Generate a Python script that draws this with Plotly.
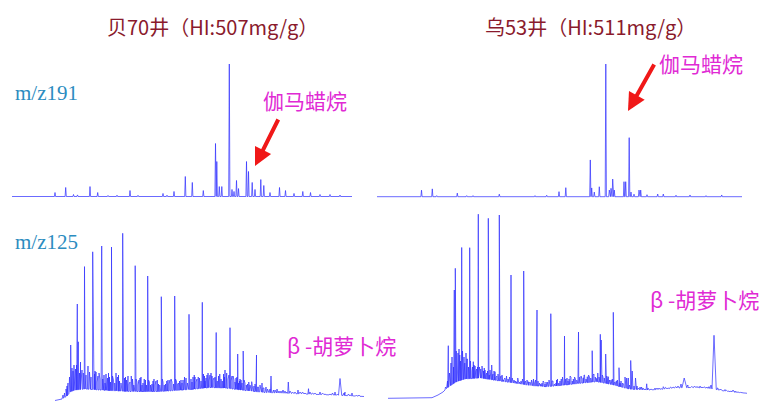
import numpy as np
import plotly.graph_objects as go

# ---------------- data (retention time in min, abundance) ----------------
# m/z191, 贝70井 (relative abundance, tallest = 100)
tl_base_t = [0.0, 68.0]
tl_base_i = [0.0, 0.0]
tl_peak_t = [8.6, 10.74, 12.3, 13.1, 15.6, 17.14, 19.2, 21.0, 23.6, 25.2,
             30.2, 31.0, 32.4, 34.66, 36.06, 38.26, 40.7, 40.96, 41.46, 41.96,
             43.46, 44.0, 44.4, 44.9, 45.3, 46.9, 47.3, 48.04, 48.6, 49.76,
             50.36, 51.6, 53.5, 54.7, 56.4, 58.16, 59.7, 61.6, 63.6, 65.6]
tl_peak_i = [3.0, 6.8, 1.5, 1.2, 7.5, 3.0, 0.8, 1.0, 4.5, 0.9,
             2.3, 1.0, 3.8, 15.1, 10.6, 4.5, 40.0, 26.4, 7.5, 7.5,
             100, 5.3, 3.8, 12.1, 6.0, 26.4, 18.9, 10.6, 5.3, 12.8,
             8.3, 3.0, 6.8, 4.5, 2.3, 3.8, 3.0, 1.5, 1.5, 1.1]

# m/z191, 乌53井
tr_base_t = [-0.6, 72.4]
tr_base_i = [0.0, 0.0]
tr_peak_t = [8.3, 10.46, 11.34, 15.46, 17.34, 18.6, 23.86, 31.0, 33.34, 35.8,
             37.16, 42.06, 42.34, 42.86, 43.86, 45.16, 45.86, 46.2, 46.54, 46.86,
             48.8, 49.14, 49.84, 50.2, 50.8, 51.8, 52.14, 53.4, 55.54, 56.66,
             59.2, 62.0, 65.2, 68.34]
tr_peak_i = [4.9, 5.9, 0.8, 2.7, 0.8, 0.8, 1.9, 0.8, 1.1, 3.8,
             6.8, 27.7, 6.6, 3.5, 7.5, 100, 5.0, 6.3, 13.3, 5.0,
             11.3, 11.3, 44.5, 3.5, 1.9, 5.0, 5.0, 1.5, 2.0, 2.0,
             1.1, 1.3, 0.8, 1.3]

# m/z125, 贝70井 (abundance, arbitrary units)
bl_base_t = [0.0, 1.4, 2.4, 3.0, 4.0, 6.0, 9.0, 15.0, 21.0, 27.0,
             31.0, 34.0, 38.0, 42.0, 47.0, 53.0, 58.0, 61.8]
bl_base_i = [0.25, 1.0, 2.5, 4.5, 5.5, 6.0, 5.5, 4.75, 4.75, 5.75,
             6.75, 6.5, 5.25, 4.25, 3.75, 3.25, 2.75, 2.25]
bl_peak_t = [3.14, 3.4, 3.8, 4.46, 4.66, 5.1, 5.9, 6.6, 7.54, 8.2,
             9.34, 10.2, 11.3, 12.2, 13.54, 14.6, 16.04, 17.2, 18.54, 19.8,
             21.26, 22.6, 23.94, 25.2, 26.8, 28.0, 29.46, 30.6, 31.4, 32.24,
             34.0, 34.34, 35.0, 36.54, 37.64, 39.34, 40.3, 41.4, 43.2, 44.4,
             46.66, 48.6, 50.7, 53.0, 56.0, 57.0, 58.0, 59.4]
bl_peak_i = [28, 16.5, 18, 48.5, 29.6, 19.5, 67.2, 17.5, 74.6, 14.5,
             77.5, 13.5, 77, 14, 83.85, 12.5, 67.65, 12, 62.5, 11,
             52.15, 10.5, 52.5, 10.5, 43.35, 12, 49.35, 14, 12.5, 34.25,
             15.5, 14, 36.65, 23.5, 25, 9.65, 23, 9, 12.5, 6,
             9.5, 5.5, 6.15, 4.5, 4.5, 11.25, 4.5, 4]
bl_noise_t = [1.6, 2.2, 2.6, 2.9, 3.6, 4.1, 4.9, 5.4, 6.2, 6.9,
              7.2, 7.9, 8.6, 9.0, 9.8, 10.5, 10.9, 11.7, 12.5, 12.9,
              13.9, 14.3, 15.0, 15.5, 16.4, 16.8, 17.6, 18.1, 18.9, 19.4,
              20.2, 20.7, 21.6, 22.1, 23.0, 23.4, 24.3, 24.7, 25.6, 26.2,
              27.2, 27.6, 28.4, 28.9, 29.9, 30.2, 31.0, 31.8, 32.7, 33.2,
              33.7, 35.4, 35.8, 36.2, 36.9, 37.2, 38.0, 38.5, 39.0, 39.8,
              40.7, 41.8, 42.5, 43.7, 45.2, 46.0, 47.5, 49.5, 51.5, 54.0,
              55.5, 58.7, 60.3]
bl_noise_i = [3, 6, 9, 12, 15, 16, 14, 15.5, 13, 14.5,
              12, 13.5, 12.5, 11, 13, 11.5, 12, 10.5, 12, 10,
              11.5, 10.5, 9.5, 11, 9.5, 10.5, 9, 10.5, 9.5, 8.5,
              10, 8.5, 9.5, 8.5, 10.5, 9.5, 10, 9, 10.5, 11.5,
              11, 12, 11, 11.5, 12.5, 11.5, 13, 11.5, 12.5, 11,
              13.5, 12.5, 10.5, 11.5, 10, 10.5, 9, 8.5, 8, 7.5,
              7, 6.5, 6, 5.5, 5, 5, 4.5, 4.5, 4, 3.5,
              4, 3.5, 3]
bl_noise2_t = [1.9, 2.4, 3.25, 3.95, 4.3, 4.75, 5.25, 5.65, 6.0, 6.45,
               7.0, 7.7, 8.0, 8.4, 8.8, 9.55, 10.0, 10.7, 11.1, 11.5,
               11.95, 12.35, 12.7, 13.2, 13.7, 14.1, 14.8, 15.25, 15.75, 16.2,
               16.6, 17.0, 17.4, 17.85, 18.3, 18.7, 19.1, 19.6, 20.0, 20.45,
               20.95, 21.45, 21.85, 22.35, 22.8, 23.2, 23.7, 24.1, 24.5, 24.9,
               25.4, 25.9, 26.5, 26.95, 27.4, 27.85, 28.2, 28.65, 29.2, 29.7,
               30.0, 30.4, 30.8, 31.2, 31.6, 32.0, 32.45, 32.95, 33.45, 33.9,
               34.6, 34.8, 35.2, 35.6, 36.0, 36.4, 36.7, 37.0, 37.4, 37.8,
               38.25, 38.75, 39.5, 40.0, 40.5, 41.0, 41.6, 42.2, 43.0, 44.0,
               44.8, 45.6, 46.3, 47.0, 48.0, 49.0, 50.0, 51.0, 52.0, 53.5,
               55.0, 56.5, 57.8, 59.0, 60.8]
bl_noise2_i = [4, 7.5, 13, 11, 18, 12, 11, 14, 10, 16,
               11, 10, 15, 9.5, 14, 11, 9, 14, 9.5, 12.5,
               9, 10.5, 13, 9, 10, 12, 8.5, 12.5, 8, 11,
               8, 11.5, 8, 11, 8, 10.5, 8, 10, 8, 10.5,
               8, 11, 8, 10, 8.5, 11, 8.5, 11, 8.5, 10,
               9, 12, 9, 12.5, 9.5, 13, 9.5, 12, 10, 13.5,
               10, 13, 10, 14, 10.5, 12, 10, 13.5, 10, 12,
               11, 13, 10, 12.5, 9.5, 12, 9, 11, 9, 10.5,
               8, 9.5, 7.5, 8.5, 7, 8, 6.5, 7, 6, 5.5,
               5, 5.5, 4.5, 5, 4.5, 4.5, 4, 4.5, 4, 4,
               3.5, 3.5, 4, 3, 3]
bl_broad_t = [34.0, 34.34, 57.0]
bl_broad_w = [0.25, 0.25, 0.35]

# m/z125, 乌53井
br_base_t = [0.0, 6.4, 8.8, 10.0, 10.8, 11.6, 12.4, 13.6, 15.4, 18.4,
             22.4, 25.0, 28.4, 31.8, 35.4, 38.4, 41.8, 45.0, 48.4, 51.8,
             55.0, 57.4, 60.4, 63.4, 66.4, 68.4, 71.8]
br_base_i = [1.35, 1.35, 1.65, 3.0, 4.0, 6.0, 7.5, 9.5, 11.0, 11.5,
             10.0, 9.0, 7.75, 7.15, 8.0, 8.85, 9.65, 8.0, 5.85, 5.5,
             5.85, 6.5, 6.75, 6.5, 5.5, 4.65, 3.85]
br_peak_t = [12.06, 12.6, 13.26, 13.46, 14.2, 14.74, 15.2, 15.6, 16.34, 17.06,
             17.4, 18.06, 18.8, 19.4, 20.06, 20.74, 21.4, 22.26, 23.06, 24.6,
             25.74, 27.14, 28.06, 29.8, 30.8, 32.2, 32.56, 33.6, 35.3, 36.2,
             37.06, 38.1, 39.06, 39.86, 40.84, 41.74, 42.46, 42.64, 43.54, 44.06,
             45.06, 45.86, 46.2, 46.6, 47.74, 48.06, 48.54, 48.84, 49.8, 51.74,
             53.4, 55.06, 59.24, 62.4, 65.2, 67.4, 69.4]
br_peak_i = [27.65, 19, 55.5, 66.35, 26, 76.75, 22, 24, 76.65, 19.65,
             17.5, 93.4, 17.5, 15.5, 91.35, 18, 14.65, 93, 10.5, 63,
             9.65, 65, 9.65, 45.5, 9, 10.5, 43.65, 9, 32.5, 11,
             11, 34.5, 11.65, 12.15, 25.15, 11.35, 33.35, 30.5, 23.5, 12.15,
             44.35, 10.5, 16.65, 10, 11.5, 11.5, 20.25, 15, 7.5, 8.6,
             6.5, 7.15, 11.5, 7.5, 32.85, 5.75, 5]
br_noise_t = [11.2, 11.9, 12.9, 13.8, 14.0, 14.5, 15.0, 15.9, 16.6, 16.9,
              17.7, 18.3, 19.1, 19.7, 20.4, 21.0, 21.8, 22.6, 23.4, 24.0,
              24.3, 25.2, 26.0, 26.6, 27.5, 28.4, 29.1, 29.5, 30.3, 31.2,
              31.6, 33.0, 33.9, 34.4, 34.9, 35.8, 36.6, 37.5, 38.6, 39.3,
              40.3, 41.2, 42.0, 43.0, 43.9, 44.6, 45.4, 46.4, 47.1, 47.4,
              49.2, 49.5, 50.4, 51.0, 52.6, 54.2, 56.0, 57.0, 58.0, 58.6,
              60.0, 61.3, 62.8, 63.8, 64.6, 66.0, 67.0, 68.0, 69.0, 70.0,
              71.0]
br_noise_i = [5, 10, 16, 21, 24, 20, 18, 21, 19, 17,
              16, 17, 15, 14, 15.5, 13.5, 12.5, 12.5, 11.5, 11,
              12, 10.5, 11, 10, 10, 9.5, 11, 10.5, 9, 9.5,
              9.5, 10, 11, 10, 12, 11.5, 12, 11, 12.5, 13,
              12, 13.5, 13, 12, 11, 10.5, 9.5, 9, 8.5, 12,
              7.5, 11.5, 7, 6.5, 6, 6.5, 6.5, 7, 7.5, 8.5,
              8, 7.5, 7, 7, 8, 6.5, 5, 5, 5.5, 4.5,
              4]
br_noise2_t = [11.5, 12.3, 12.8, 13.1, 13.65, 13.9, 14.35, 14.9, 15.35, 15.75,
               16.1, 16.5, 16.8, 17.2, 17.55, 17.9, 18.2, 18.55, 18.95, 19.25,
               19.55, 19.9, 20.25, 20.55, 20.9, 21.2, 21.6, 22.0, 22.45, 22.8,
               23.2, 23.7, 24.15, 24.85, 25.45, 25.95, 26.3, 26.9, 27.35, 27.8,
               28.25, 28.7, 29.3, 30.0, 30.55, 31.0, 31.4, 31.95, 32.35, 32.8,
               33.25, 33.7, 34.15, 34.65, 35.05, 35.55, 36.0, 36.4, 36.85, 37.3,
               37.75, 38.35, 38.8, 39.2, 39.6, 40.1, 40.55, 41.0, 41.45, 41.95,
               42.2, 42.85, 43.25, 43.75, 44.3, 44.85, 45.25, 45.65, 46.05, 46.9,
               47.55, 48.3, 48.95, 49.6, 50.1, 50.7, 51.4, 52.0, 53.0, 53.8,
               54.6, 55.5, 56.5, 57.5, 59.8, 60.7, 61.8, 62.1, 63.2, 64.2,
               65.8, 66.6, 67.7, 68.6, 69.6, 70.5, 71.4]
br_noise2_i = [7, 14, 22, 17, 25, 19, 23, 25, 19, 21,
               17, 20, 15, 18, 15, 17, 14, 16, 14, 16.5,
               13, 15, 13, 14.5, 12.5, 15, 12, 13.5, 11.5, 13,
               11, 12.5, 10.5, 11.5, 10, 11.5, 9.5, 11, 9.5, 10.5,
               9, 10.5, 9, 10, 8.5, 10, 8.5, 9.5, 8.5, 10,
               8.5, 10.5, 9, 11, 9.5, 11, 10, 12.5, 10, 12,
               10.5, 12, 11, 13, 11, 13, 11.5, 13, 12, 14,
               12, 13, 11.5, 12.5, 10.5, 11, 9, 10, 8.5, 9,
               9, 8, 7.5, 7, 6.5, 7, 6, 6.5, 5.8, 6.5,
               6.2, 6.8, 7, 7.2, 7.5, 7.2, 7.3, 7.0, 7.1, 7.2,
               6.3, 5.8, 5.3, 5.0, 4.6, 4.3, 4.0]
br_broad_t = [14.2, 42.46, 59.24, 65.2]
br_broad_w = [0.25, 0.2, 0.5, 0.45]

titles = ["贝70井（HI:507mg/g）", "乌53井（HI:511mg/g）"]
ion_labels = ["m/z191", "m/z125"]
compound_top = "伽马蜡烷"
compound_bottom = "β -胡萝卜烷"


# ---------------- trace builder ----------------
def build(base_t, base_i, peak_t, peak_i, w, noise_t=(), noise_i=(), wn=0.2,
          broad_t=(), broad_w=()):
    bt = np.asarray(base_t, float)
    bi = np.asarray(base_i, float)
    bw = dict(zip(broad_t, broad_w))
    pts = []
    centers = []
    for t, i in zip(peak_t, peak_i):
        ww = bw.get(t, w)
        pts += [(t - ww, float(np.interp(t - ww, bt, bi))), (t, i),
                (t + ww, float(np.interp(t + ww, bt, bi)))]
        centers.append(t)
    for t, i in zip(noise_t, noise_i):
        pts += [(t - wn, float(np.interp(t - wn, bt, bi))), (t, i),
                (t + wn, float(np.interp(t + wn, bt, bi)))]
        centers.append(t)
    c = np.asarray(centers)
    for t, i in zip(base_t, base_i):
        if c.size == 0 or np.all(np.abs(c - t) > 0.35):
            pts.append((t, i))
    pts.sort(key=lambda p: p[0])
    return [p[0] for p in pts], [p[1] for p in pts]


W, H = 762, 402
panels = [
    dict(data=build(tl_base_t, tl_base_i, tl_peak_t, tl_peak_i, 0.12),
         xpx=(12, 352), xr=(0, 68), ypx=(55, 200), base=196.5, scale=1.325),
    dict(data=build(tr_base_t, tr_base_i, tr_peak_t, tr_peak_i, 0.12),
         xpx=(377, 742), xr=(-0.6, 72.4), ypx=(55, 200), base=196.7, scale=1.327),
    dict(data=build(bl_base_t, bl_base_i, bl_peak_t, bl_peak_i, 0.12,
                    bl_noise_t + bl_noise2_t, bl_noise_i + bl_noise2_i, 0.2,
                    bl_broad_t, bl_broad_w),
         xpx=(55, 364), xr=(0, 61.8), ypx=(212, 402), base=401, scale=2.0),
    dict(data=build(br_base_t, br_base_i, br_peak_t, br_peak_i, 0.12,
                    br_noise_t + br_noise2_t, br_noise_i + br_noise2_i, 0.2,
                    br_broad_t, br_broad_w),
         xpx=(388, 747), xr=(0, 71.8), ypx=(200, 402), base=401, scale=2.0),
]

fig = go.Figure()
layout = {}
for k, p in enumerate(panels, start=1):
    sfx = "" if k == 1 else str(k)
    x, y = p["data"]
    fig.add_trace(go.Scatter(x=x, y=y, mode="lines", xaxis="x" + sfx, yaxis="y" + sfx,
                             line=dict(color="rgba(50,50,255,0.72)", width=1),
                             hoverinfo="skip", showlegend=False))
    x0, x1 = p["xpx"]
    ytop, ybot = p["ypx"]
    layout["xaxis" + sfx] = dict(domain=[x0 / W, x1 / W], range=list(p["xr"]),
                                 visible=False, anchor="y" + sfx, fixedrange=True)
    layout["yaxis" + sfx] = dict(domain=[1 - ybot / H, 1 - ytop / H],
                                 range=[(p["base"] - ybot) / p["scale"],
                                        (p["base"] - ytop) / p["scale"]],
                                 visible=False, anchor="x" + sfx, fixedrange=True)

fig.update_layout(**layout)

title_font = dict(family="Noto Sans CJK SC", size=20, color="#8a1a2c")
ion_font = dict(family="Liberation Serif", size=21, color="#2b8cc0")
comp_font = dict(family="Noto Sans CJK SC", size=21, color="#e02ad4")

ann = []
def A(text, px, py, font, xanchor="center"):
    ann.append(dict(text=text, x=px / W, y=1 - py / H, xref="paper", yref="paper",
                    showarrow=False, font=font, xanchor=xanchor, yanchor="middle"))

A(titles[0], 212.5, 27, title_font)
A(titles[1], 590, 27, title_font)
A(ion_labels[0], 13, 93, ion_font, "left")
A(ion_labels[1], 13, 242, ion_font, "left")
A(compound_top, 304.5, 100, comp_font)
A(compound_top, 700.5, 63, comp_font)
A(compound_bottom, 341, 345, comp_font)
A(compound_bottom, 704, 299, comp_font)

# red arrows
for tip, tail in [((255, 166), (279, 118)), ((628, 111), (655, 63))]:
    ann.append(dict(text="", x=tip[0] / W, y=1 - tip[1] / H, xref="paper", yref="paper",
                    showarrow=True, ax=tail[0] - tip[0], ay=tail[1] - tip[1],
                    arrowhead=2, arrowsize=0.9, arrowwidth=4, arrowcolor="#f01818"))

fig.update_layout(annotations=ann, width=W, height=H,
                  margin=dict(l=0, r=0, t=0, b=0),
                  paper_bgcolor="white", plot_bgcolor="rgba(0,0,0,0)")

fig.write_html("out.html", config={"displayModeBar": False})
